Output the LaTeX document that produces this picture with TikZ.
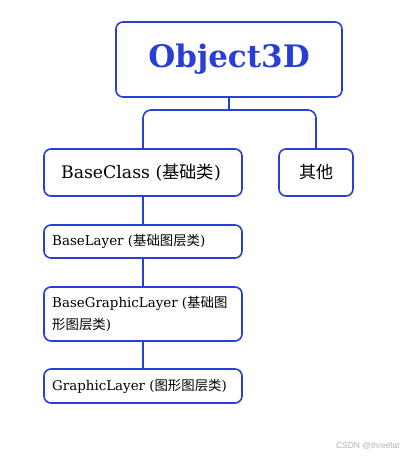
\documentclass[tikz,border=0pt]{standalone}
\usepackage{fontspec}
\setmainfont{DejaVu Serif}
\newfontfamily\cjk{Noto Sans CJK SC}
\newfontfamily\wmfont{Liberation Sans}
\definecolor{lineblue}{RGB}{40,62,214}
\tikzset{
  box/.style={draw=lineblue, line width=1.6pt, rounded corners=7pt},
  link/.style={draw=lineblue, line width=1.6pt},
  small/.style={anchor=west, inner sep=0pt, font=\fontsize{13.4}{22}\selectfont},
}
\begin{document}
\begin{tikzpicture}[x=1pt,y=-1pt]
\useasboundingbox (0,0) rectangle (408,458);
% boxes
\draw[box] (116,22) rectangle (342,97);
\node (top) at (229,59.5) {\fontsize{31}{34}\selectfont\bfseries\color{lineblue}Object3D};
\coordinate (topb) at (229,97);
\draw[box] (44,149) rectangle (242,196);
\node (bc) at (141,172.5) {\fontsize{17.3}{20}\selectfont BaseClass ({\cjk 基础类})};
\coordinate (bct) at (143,149);
\coordinate (bcb) at (143,196);
\draw[box] (279,149) rectangle (353,196);
\node (qt) at (316,172.5) {\fontsize{17}{20}\selectfont\cjk 其他};
\coordinate (qtt) at (316,149);
\draw[box] (44,225) rectangle (242,258);
\node[small] (bl) at (52,241.5) {BaseLayer ({\cjk 基础图层类})};
\coordinate (blt) at (143,225);
\coordinate (blb) at (143,258);
\draw[box] (44,287) rectangle (242,341);
\node[small, align=left] (bgl) at (52,314) {BaseGraphicLayer ({\cjk 基础图}\\{\cjk 形图层类})};
\coordinate (bglt) at (143,287);
\coordinate (bglb) at (143,341);
\draw[box] (44,369) rectangle (242,403);
\node[small] (gl) at (52,386) {GraphicLayer ({\cjk 图形图层类})};
\coordinate (glt) at (143,369);
% connectors
\draw[link] (topb) -- (229,110);
\draw[link, rounded corners=8pt] (bct) -- (143,110) -- (316,110) -- (qtt);
\draw[link] (bcb) -- (blt);
\draw[link] (blb) -- (bglt);
\draw[link] (bglb) -- (glt);
\node[anchor=east] (wm) at (403,446) {\fontsize{8.5}{10}\selectfont\wmfont\color{black!30}CSDN @threelat};
\end{tikzpicture}
\end{document}
